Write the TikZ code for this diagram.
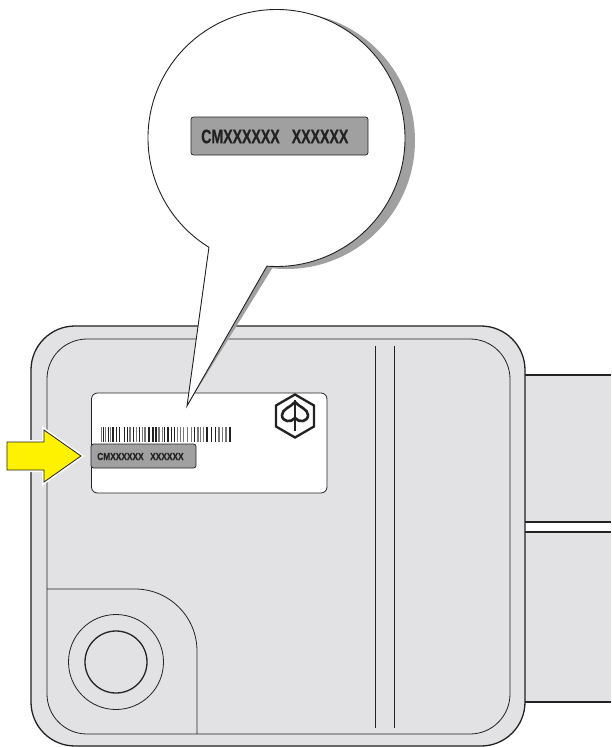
\documentclass[tikz,border=0pt]{standalone}
\usepackage{fontspec}
\newfontfamily\bigtagfont[FakeStretch=0.725,FakeBold=0.5]{Liberation Sans Bold}
\newfontfamily\smalltagfont[FakeStretch=0.82,FakeBold=0.3]{Liberation Sans Bold}
\definecolor{body}{HTML}{E2E2E4}
\definecolor{tagfill}{HTML}{A0A0A0}
\definecolor{ink}{HTML}{222222}
\definecolor{bargray}{HTML}{777777}
\tikzset{
  heavy/.style={draw=ink,line width=1.3pt},
  thin line/.style={draw=ink,line width=0.8pt},
  tagbox/.style={rectangle,rounded corners=2.5pt,draw=ink,line width=0.7pt,fill=tagfill,inner sep=0pt},
  tagtext/.style={inner sep=0pt,text=ink,anchor=west},
}
\begin{document}
\begin{tikzpicture}[x=1pt,y=-1pt]
\useasboundingbox (0,0) rectangle (611,747);
% side boxes
\fill[body] (525,375) rectangle (611,522);
\fill[body] (525,532) rectangle (611,702);
\draw[heavy] (525,375) -- (611,375);
\draw[heavy] (525,522) -- (611,522);
\draw[heavy] (525,532) -- (611,532);
\draw[heavy] (525,702) -- (611,702);
% body
\draw[heavy,fill=body,rounded corners=44pt] (31,326) rectangle (525,746);
\draw[thin line,rounded corners=40pt] (47,339) rectangle (510,734);
\draw[thin line] (375,346) -- (375,728);
\draw[thin line] (394,346) -- (394,728);
% corner compartment
\draw[thin line] (47,589) -- (135,589) arc[start angle=-90,end angle=0,radius=62] -- (197,734);
\draw[thin line] (116,662) circle[radius=47.5];
\draw[heavy] (116,662) circle[radius=31];
% label
\draw[thin line,fill=white,rounded corners=6pt] (91.5,393) rectangle (327,493);
% barcode
\foreach \bx/\bw/\bc in {100.7/1.2/bargray,103/1.2/ink,105/1.2/bargray,107.7/1.2/ink,109.7/1.2/bargray,112.3/1.8/ink,116.3/1/ink,119.3/1/ink,123.7/1/ink,126.7/1/ink,129.3/1.2/bargray,132.7/1/ink,135.7/1.2/bargray,139/1/ink,141.7/1.2/bargray,144.3/1.2/bargray,147.7/1.8/ink,151.7/1.8/ink,155/1.5/ink,158.3/1.2/bargray,161.5/1.2/bargray,164/1/ink,167.3/1.8/ink,171/1/ink,174/1/ink,177/1.2/bargray,180/1.2/bargray,182.7/1.2/bargray,186.7/1.2/bargray,190.7/1.6/bargray,194.3/1/ink,197.3/1.2/bargray,199.7/1.2/bargray,202.7/1.2/bargray,206.3/1.8/ink,210.7/1/ink,215/1/ink,218.3/1.2/bargray,221.7/1.2/bargray,225.3/1.2/bargray,229.3/1.8/ink}{
  \fill[\bc] (\bx,427) rectangle ++(\bw,15);
}
% small tag
\node[tagbox,minimum width=105pt,minimum height=24pt] (smalltag) at (143.5,456) {};
\node[tagtext,font=\smalltagfont\fontsize{10.2}{12}\selectfont] (smalltext) at (97,456.5) {CMXXXXXX\hspace{6.5pt}XXXXXX};
% logo
\draw[ink,line width=2.3pt,line join=miter] (295,394.5) -- (314,405.5) -- (314,426.5) -- (295,437.5) -- (276,426.5) -- (276,405.5) -- cycle;
\draw[ink,line width=2.6pt,line join=round] (295,402) .. controls (299,407) and (308,409) .. (308,415) .. controls (308,422) and (299,423) .. (295,418) .. controls (291,423) and (282,422) .. (282,415) .. controls (282,409) and (291,407) .. (295,402) -- cycle;
\draw[ink,line width=2pt] (295,400) -- (295,431);
% arrow
\draw[draw=white,line width=4pt,line join=miter,fill=white] (7,442) -- (44,442) -- (44,430) -- (81,456) -- (44,482) -- (44,470) -- (7,470) -- cycle;
\fill[white] (0,437) rectangle (7,475);
\draw[draw=ink,line width=0.8pt,fill=yellow,line join=miter] (7,442) -- (44,442) -- (44,430) -- (81,456) -- (44,482) -- (44,470) -- (7,470) -- cycle;
% callout shadow
\fill[tagfill] (286.5,140.5) circle[radius=128.5];
\fill[tagfill] (187,406) -- (209,247) -- (273,267) -- cycle;
% callout
\fill[white] (187,406) -- (209,247) -- (267,266) -- cycle;
\fill[white] (276.5,138) circle[radius=128.5];
\draw[ink,line width=0.9pt,line join=miter] (276.5,138) ++(121.8:128.5) arc[start angle=121.8,end angle=454.2,radius=128.5];
\draw[ink,line width=0.9pt] (209,247) -- (187,406) -- (267,266);
% big tag
\node[tagbox,minimum width=177pt,minimum height=38pt] (bigtag) at (279.5,136) {};
\node[tagtext,font=\bigtagfont\fontsize{19.5}{22}\selectfont] (bigtext) at (201,136.5) {CMXXXXXX\hspace{12pt}XXXXXX};
\end{tikzpicture}
\end{document}
